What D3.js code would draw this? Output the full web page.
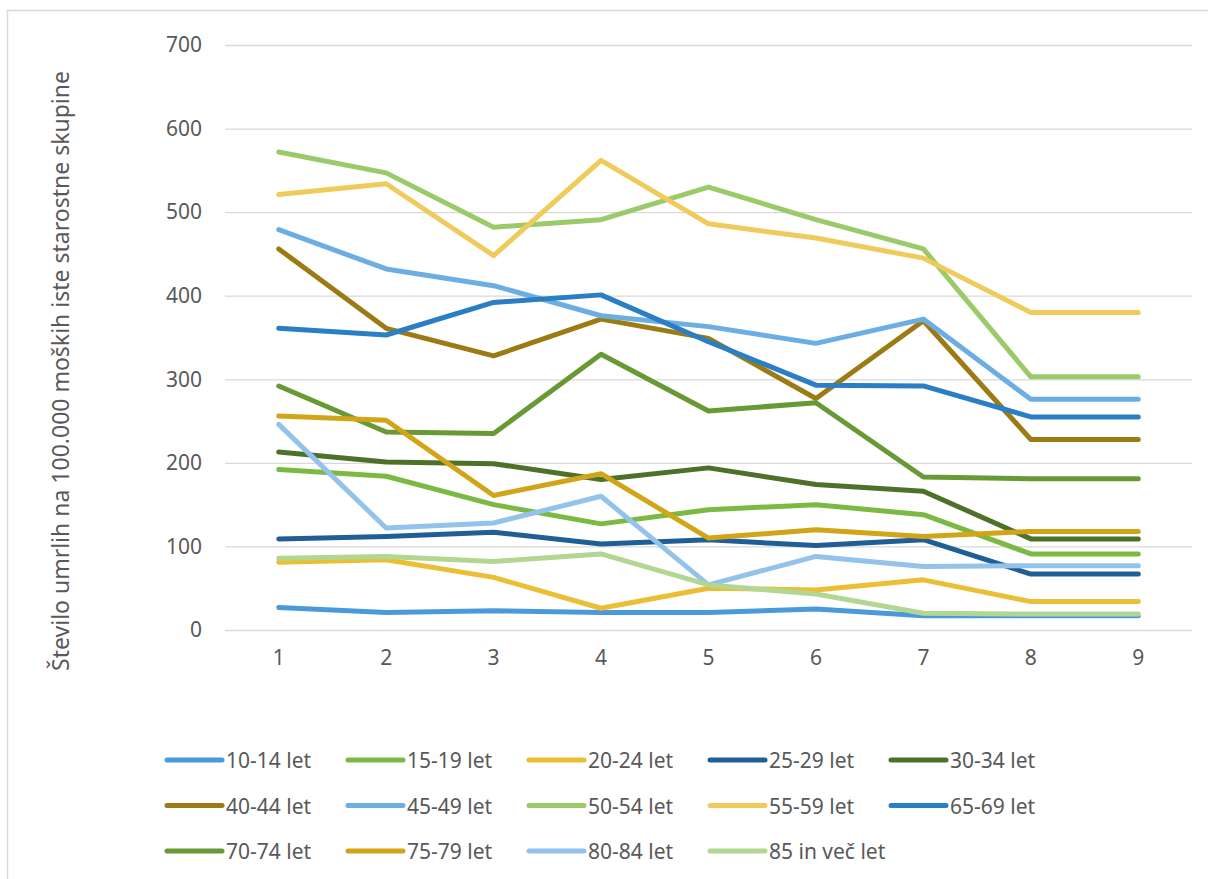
<!DOCTYPE html>
<html>
<head>
<meta charset="utf-8">
<script src="https://cdn.jsdelivr.net/npm/d3@7"></script>
<style>
  html, body { margin: 0; padding: 0; background: #fff; }
  svg { display: block; }
  text { font-family: "Noto Sans", "Open Sans", sans-serif; fill: #595959; }
</style>
</head>
<body>
<svg id="chart" width="1208" height="879"></svg>
<script>
// Categories on the x axis
const categories = [1, 2, 3, 4, 5, 6, 7, 8, 9];

// Age groups (series names) and their colours
const seriesNames = [
  "10-14 let", "15-19 let", "20-24 let", "25-29 let", "30-34 let",
  "40-44 let", "45-49 let", "50-54 let", "55-59 let", "65-69 let",
  "70-74 let", "75-79 let", "80-84 let", "85 in več let"
];
const seriesColors = [
  "#4a9adb", "#7cb943", "#eabf36", "#1f5f96", "#4d7128",
  "#9c7b14", "#6caee3", "#9bca68", "#efcb5c", "#2a7ec5",
  "#679934", "#d1a518", "#93c3ea", "#b2d792"
];

// Deaths per 100,000 men of the same age group
const v10_14 = [27, 21, 23, 21, 21, 25, 17, 17, 17];
const v15_19 = [192, 184, 150, 127, 144, 150, 138, 91, 91];
const v20_24 = [81, 84, 63, 26, 50, 48, 60, 34, 34];
const v25_29 = [109, 112, 117, 103, 108, 101, 108, 67, 67];
const v30_34 = [213, 201, 199, 180, 194, 174, 166, 109, 109];
const v40_44 = [456, 361, 328, 372, 349, 277, 370, 228, 228];
const v45_49 = [479, 432, 412, 376, 363, 343, 372, 276, 276];
const v50_54 = [572, 547, 482, 491, 530, 491, 456, 303, 303];
const v55_59 = [521, 534, 448, 562, 486, 469, 445, 380, 380];
const v65_69 = [361, 353, 392, 401, 345, 293, 292, 255, 255];
const v70_74 = [292, 237, 235, 330, 262, 272, 183, 181, 181];
const v75_79 = [256, 251, 161, 187, 110, 120, 112, 118, 118];
const v80_84 = [246, 122, 128, 160, 54, 88, 76, 77, 77];
const v85 = [86, 88, 82, 91, 54, 43, 20, 19, 19];

const seriesValues = [
  v10_14, v15_19, v20_24, v25_29, v30_34, v40_44, v45_49,
  v50_54, v55_59, v65_69, v70_74, v75_79, v80_84, v85
];

// Y axis ticks
const yTicks = [0, 100, 200, 300, 400, 500, 600, 700];
const yTitle = "Število umrlih na 100.000 moških iste starostne skupine";

const svg = d3.select("#chart");

// Outer chart frame
svg.append("rect")
  .attr("x", 7.5).attr("y", 10.5)
  .attr("width", 1220).attr("height", 900)
  .attr("fill", "none").attr("stroke", "#d9d9d9").attr("stroke-width", 1.5);

const plot = { left: 225, right: 1192, top: 45, bottom: 630 };

const x = d3.scaleBand()
  .domain(categories)
  .range([plot.left, plot.right]);

const y = d3.scaleLinear()
  .domain([0, 700])
  .range([plot.bottom, plot.top]);

// Horizontal gridlines with tick labels
const yAxis = d3.axisLeft(y)
  .tickValues(yTicks)
  .tickSize(-(plot.right - plot.left))
  .tickPadding(23)
  .tickFormat(d3.format("d"));

const gy = svg.append("g")
  .attr("transform", `translate(${plot.left},0)`)
  .call(yAxis);
gy.select(".domain").remove();
gy.selectAll(".tick line").attr("stroke", "#d9d9d9").attr("stroke-width", 1.3);
gy.selectAll(".tick text")
  .attr("font-size", 21)
  .attr("fill", "#595959")
  .style("font-family", '"Noto Sans", sans-serif');

// Category labels
const xAxis = d3.axisBottom(x).tickSize(0).tickPadding(20);
const gx = svg.append("g")
  .attr("transform", `translate(0,${plot.bottom})`)
  .call(xAxis);
gx.select(".domain").remove();
gx.selectAll(".tick text")
  .attr("font-size", 21)
  .attr("fill", "#595959")
  .style("font-family", '"Noto Sans", sans-serif');

// Y axis title
svg.append("text")
  .attr("transform", "translate(60,371) rotate(-90)")
  .attr("text-anchor", "middle")
  .attr("dominant-baseline", "central")
  .attr("font-size", 23)
  .text(yTitle);

// Series lines
const line = d3.line()
  .x((d, i) => x(categories[i]) + x.bandwidth() / 2)
  .y(d => y(d));

svg.append("g")
  .selectAll("path")
  .data(seriesValues)
  .join("path")
  .attr("d", line)
  .attr("fill", "none")
  .attr("stroke", (d, i) => seriesColors[i])
  .attr("stroke-width", 5)
  .attr("stroke-linejoin", "round")
  .attr("stroke-linecap", "round");

// Legend: 5 columns, 3 rows
const legendCols = 5;
const legendX0 = 167, legendColStep = 181;
const legendY0 = 760, legendRowStep = 45.5;

const legend = svg.append("g")
  .selectAll("g")
  .data(seriesNames)
  .join("g")
  .attr("transform", (d, i) =>
    `translate(${legendX0 + (i % legendCols) * legendColStep},${legendY0 + Math.floor(i / legendCols) * legendRowStep})`);

legend.append("line")
  .attr("x1", 0).attr("x2", 55)
  .attr("y1", 0).attr("y2", 0)
  .attr("stroke", (d, i) => seriesColors[i])
  .attr("stroke-width", 5)
  .attr("stroke-linecap", "round");

legend.append("text")
  .attr("x", 59)
  .attr("y", 0)
  .attr("dominant-baseline", "central")
  .attr("font-size", 21)
  .text(d => d);
</script>
</body>
</html>
